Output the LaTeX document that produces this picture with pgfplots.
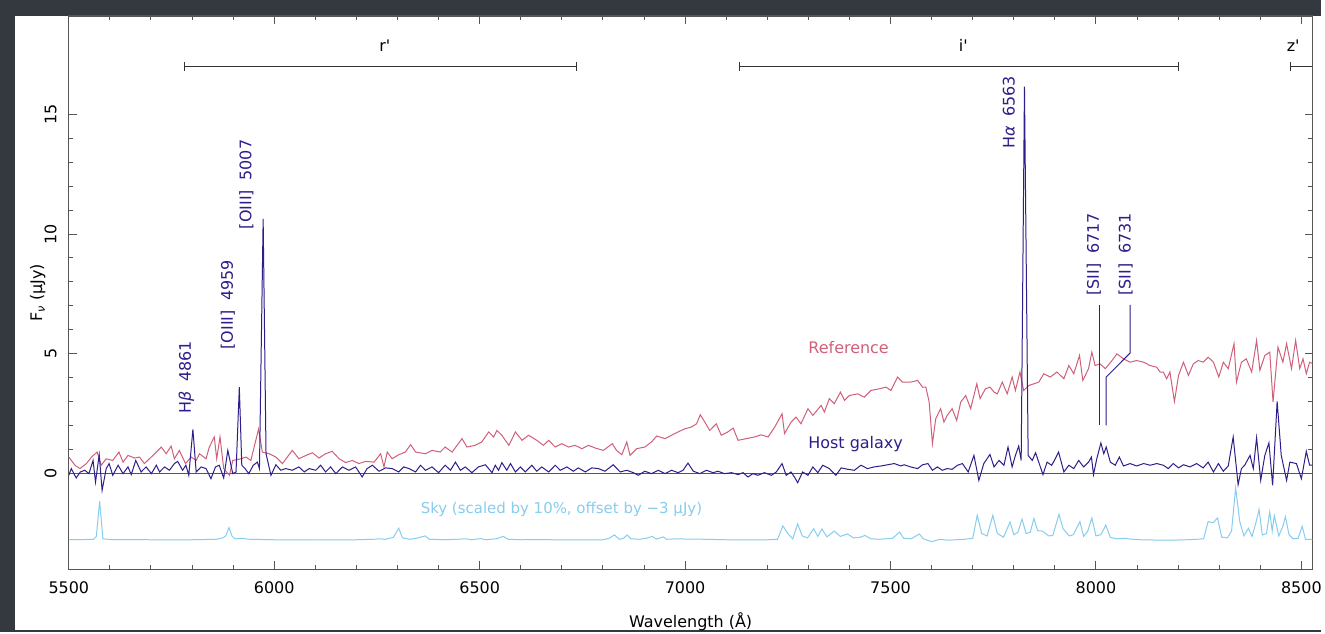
\documentclass[border=0pt]{standalone}
\usepackage{fontspec}
\setmainfont{DejaVu Sans}
\usepackage{pgfplots}
\pgfplotsset{compat=1.18}
\usepackage{pgfplotstable}
\definecolor{hostc}{RGB}{46,30,138}
\definecolor{refc}{RGB}{208,96,122}
\definecolor{skyc}{RGB}{135,205,238}
\definecolor{bgdark}{RGB}{52,56,63}
\definecolor{axc}{RGB}{85,85,85}

\pgfplotstableread{
lam flux
5500 -0.07
5506 0.21
5518 -0.18
5528 0.07
5539 0.14
5549 0.00
5559 0.55
5565 -0.35
5574 0.79
5581 -0.70
5591 0.21
5598 0.42
5607 -0.07
5620 0.35
5632 0.00
5644 0.28
5652 -0.04
5663 0.55
5676 0.07
5688 0.28
5701 0.00
5713 0.35
5721 0.07
5733 0.28
5745 0.14
5757 0.42
5765 0.51
5777 0.14
5785 0.35
5792 -0.07
5802 1.85
5810 0.07
5822 0.28
5834 0.21
5846 -0.21
5857 0.28
5866 0.35
5877 -0.18
5887 0.97
5899 0.00
5907 0.07
5915 3.61
5921 0.35
5929 0.21
5938 0.00
5949 0.35
5959 0.48
5964 0.21
5973 10.63
5980 0.83
5992 -0.07
6004 0.37
6016 0.14
6028 0.21
6044 0.14
6060 0.28
6073 0.07
6085 0.21
6101 0.14
6113 0.35
6125 0.07
6137 0.28
6150 0.00
6166 0.28
6182 0.14
6198 0.28
6214 -0.14
6226 0.21
6239 0.35
6255 0.10
6271 0.24
6287 0.21
6303 0.07
6315 0.28
6328 0.21
6344 0.07
6356 0.35
6368 0.14
6384 0.28
6400 0.04
6416 0.35
6429 0.14
6441 0.48
6453 0.14
6465 0.28
6481 0.04
6497 0.28
6514 0.37
6530 0.04
6538 0.35
6546 0.14
6554 0.46
6566 0.14
6575 0.42
6587 0.07
6599 0.28
6611 0.07
6627 0.35
6639 0.10
6651 0.28
6668 0.07
6684 0.35
6696 0.14
6712 0.28
6728 0.10
6740 0.24
6757 0.07
6773 0.24
6789 0.21
6805 0.10
6825 0.37
6842 0.07
6858 0.14
6874 0.04
6886 -0.07
6902 0.10
6918 0.00
6935 0.14
6951 0.00
6967 0.14
6983 0.04
6995 0.14
7007 0.44
7020 0.10
7036 0.00
7052 0.14
7068 0.04
7080 0.10
7096 0.00
7113 0.04
7129 -0.04
7141 0.04
7153 -0.14
7165 0.00
7177 -0.07
7193 0.04
7210 -0.07
7222 0.07
7236 0.42
7246 -0.07
7258 0.07
7266 -0.14
7274 -0.38
7286 0.07
7299 -0.07
7311 0.28
7323 0.04
7335 0.35
7351 0.21
7367 -0.07
7380 0.24
7396 0.18
7412 0.14
7428 0.35
7444 0.21
7460 0.28
7477 0.32
7493 0.37
7509 0.42
7525 0.32
7533 0.37
7549 0.28
7566 0.21
7578 0.37
7591 0.42
7602 0.14
7614 0.28
7626 0.14
7638 0.21
7650 0.18
7663 0.35
7675 0.42
7689 0.07
7703 0.76
7715 -0.28
7727 0.42
7742 0.80
7752 0.28
7764 0.55
7776 0.35
7786 1.11
7796 0.28
7804 0.76
7812 1.15
7818 0.55
7826 16.15
7835 0.76
7845 0.55
7853 0.87
7871 -0.04
7881 0.48
7892 0.35
7899 0.55
7909 0.90
7922 0.07
7934 0.35
7946 0.21
7958 0.55
7970 0.28
7982 0.48
7989 0.69
7994 -0.04
8002 0.62
8012 1.28
8019 0.83
8025 1.11
8035 0.48
8047 0.35
8057 0.69
8067 0.32
8083 0.42
8099 0.32
8116 0.42
8132 0.35
8148 0.42
8164 0.35
8176 0.21
8188 0.42
8201 0.24
8213 0.37
8229 0.28
8245 0.42
8261 0.24
8273 0.48
8286 0.07
8298 0.42
8310 0.10
8322 0.32
8334 1.53
8346 -0.46
8354 0.21
8362 0.35
8375 0.76
8383 0.21
8391 1.50
8401 -0.28
8411 0.76
8421 1.28
8430 -0.49
8441 3.01
8451 0.76
8464 -0.28
8472 0.48
8488 0.42
8500 -0.21
8512 0.93
8520 0.35
8527 0.35
}\hostdata

\pgfplotstableread{
lam flux
5500 0.69
5515 0.35
5527 0.21
5543 0.42
5555 0.69
5569 0.90
5579 0.35
5591 0.62
5607 0.55
5622 0.90
5632 0.48
5644 0.76
5660 0.65
5672 0.69
5684 0.42
5709 0.83
5725 1.11
5737 0.83
5749 1.15
5757 0.62
5769 0.97
5784 0.42
5798 0.69
5810 0.55
5818 0.83
5834 0.62
5842 1.11
5854 1.53
5860 0.62
5868 1.53
5877 0.21
5891 -0.07
5899 0.55
5919 0.62
5931 0.69
5943 0.55
5962 1.87
5971 0.90
5988 0.83
6004 0.69
6020 0.42
6044 0.97
6060 0.62
6077 0.76
6093 0.87
6109 0.65
6125 0.83
6141 0.93
6158 0.62
6174 0.46
6190 0.55
6206 0.42
6222 0.51
6243 0.48
6259 0.83
6267 0.28
6275 0.90
6287 0.62
6303 0.79
6319 0.90
6332 1.21
6344 0.90
6368 0.83
6384 0.97
6404 0.90
6416 1.11
6433 0.90
6457 1.46
6469 1.11
6489 1.18
6505 1.32
6522 1.74
6534 1.53
6542 1.80
6554 1.60
6571 1.18
6587 1.74
6603 1.39
6619 1.60
6639 1.39
6655 1.18
6668 1.39
6684 1.11
6700 1.25
6716 1.11
6732 1.18
6749 1.04
6765 1.18
6781 1.07
6801 0.97
6823 1.25
6833 0.97
6846 0.79
6858 1.32
6866 0.76
6882 1.04
6902 1.11
6918 1.32
6931 1.57
6951 1.46
6967 1.60
6983 1.74
6999 1.87
7015 1.94
7028 2.08
7037 2.46
7048 2.15
7060 1.80
7076 2.08
7088 1.60
7104 1.74
7117 1.90
7129 1.39
7149 1.46
7169 1.53
7185 1.62
7202 1.53
7218 1.94
7236 2.50
7242 1.67
7258 2.15
7270 2.36
7282 2.08
7299 2.71
7311 2.43
7331 2.85
7339 2.57
7351 3.13
7363 2.92
7378 3.40
7388 3.06
7400 3.26
7420 3.33
7436 3.19
7452 3.47
7473 3.54
7489 3.61
7501 3.47
7517 4.03
7529 3.82
7549 3.82
7566 3.89
7578 3.61
7586 3.61
7594 2.99
7602 1.25
7610 2.29
7622 2.71
7630 2.15
7638 2.43
7650 2.71
7661 2.22
7671 2.99
7683 3.26
7695 2.71
7710 3.75
7718 3.13
7731 3.54
7742 3.61
7752 3.40
7760 3.33
7772 3.82
7784 3.33
7796 4.03
7804 3.47
7815 4.24
7824 3.47
7837 3.68
7849 3.75
7861 3.82
7873 4.17
7889 4.03
7905 4.24
7922 3.96
7934 4.51
7946 4.17
7960 4.93
7968 3.89
7982 4.38
7990 5.07
7998 4.51
8010 4.58
8023 4.38
8039 4.72
8051 5.00
8067 4.79
8083 4.65
8099 4.72
8116 4.65
8132 4.51
8148 4.44
8156 4.24
8164 4.24
8172 3.96
8180 4.24
8191 3.01
8201 4.10
8213 4.65
8225 4.10
8237 4.58
8249 4.72
8261 4.65
8273 4.86
8286 4.65
8299 4.03
8310 4.65
8322 4.38
8336 5.42
8342 3.82
8354 4.65
8366 4.79
8379 4.24
8391 5.56
8399 4.31
8411 4.93
8423 5.07
8431 2.99
8443 5.28
8455 4.65
8464 5.42
8476 4.38
8486 5.56
8496 4.38
8504 4.79
8512 4.17
8520 4.65
8527 4.60
}\refdata

\pgfplotstableread{
lam flux
5500 -2.76
5540 -2.75
5560 -2.74
5567 -2.62
5575 -1.15
5583 -2.72
5600 -2.75
5700 -2.76
5800 -2.76
5860 -2.74
5875 -2.68
5882 -2.60
5890 -2.25
5897 -2.60
5904 -2.72
5920 -2.70
5940 -2.74
6000 -2.76
6100 -2.77
6200 -2.76
6240 -2.74
6255 -2.72
6270 -2.74
6290 -2.66
6303 -2.28
6312 -2.68
6330 -2.74
6345 -2.70
6367 -2.60
6378 -2.74
6420 -2.76
6468 -2.72
6480 -2.76
6502 -2.71
6515 -2.76
6540 -2.72
6557 -2.62
6570 -2.74
6600 -2.76
6650 -2.75
6700 -2.77
6750 -2.76
6800 -2.76
6815 -2.70
6828 -2.56
6840 -2.74
6850 -2.70
6859 -2.56
6868 -2.72
6890 -2.74
6905 -2.70
6920 -2.62
6930 -2.73
6947 -2.64
6955 -2.74
6980 -2.72
7000 -2.73
7050 -2.74
7100 -2.76
7150 -2.77
7200 -2.76
7225 -2.74
7238 -2.18
7250 -2.50
7262 -2.72
7274 -2.10
7285 -2.60
7298 -2.68
7313 -2.30
7323 -2.62
7333 -2.31
7345 -2.64
7363 -2.40
7378 -2.62
7395 -2.52
7410 -2.68
7425 -2.66
7438 -2.58
7452 -2.72
7470 -2.74
7490 -2.72
7505 -2.70
7522 -2.44
7532 -2.70
7550 -2.72
7570 -2.52
7580 -2.72
7600 -2.84
7620 -2.74
7640 -2.78
7660 -2.76
7680 -2.74
7700 -2.70
7711 -1.74
7722 -2.50
7735 -2.60
7749 -1.74
7760 -2.50
7775 -2.65
7791 -2.02
7800 -2.55
7810 -2.45
7820 -1.90
7830 -2.50
7840 -2.45
7849 -1.87
7858 -2.38
7870 -2.40
7885 -2.60
7895 -2.58
7910 -1.70
7920 -2.30
7935 -2.60
7945 -2.55
7961 -2.00
7970 -2.62
7980 -2.40
7990 -1.85
8000 -2.60
8012 -2.55
8024 -2.15
8035 -2.66
8050 -2.72
8070 -2.70
8090 -2.74
8110 -2.76
8140 -2.77
8180 -2.78
8220 -2.76
8245 -2.74
8262 -2.72
8273 -2.00
8285 -2.05
8296 -1.85
8306 -2.65
8320 -2.68
8330 -2.40
8340 -0.60
8350 -2.00
8360 -2.60
8371 -2.28
8380 -2.62
8390 -2.00
8397 -1.50
8405 -2.56
8415 -2.50
8423 -1.60
8429 -2.40
8434 -1.75
8445 -2.60
8455 -2.20
8461 -1.80
8470 -2.55
8480 -2.72
8492 -2.70
8502 -2.20
8510 -2.74
8527 -2.75
}\skydata

\begin{document}
\begin{tikzpicture}
\fill[bgdark] (0pt,0pt) rectangle (1325pt,634pt);
\fill[white] (15pt,2pt) rectangle (1325pt,618pt);
\begin{axis}[
  at={(69pt,63pt)}, anchor=south west,
  scale only axis, width=1247pt, height=555pt,
  xmin=5500, xmax=8527, ymin=-4, ymax=19.1,
  xtick={5500,6000,6500,7000,7500,8000,8500},
  minor x tick num=4,
  ytick={0,5,10,15}, minor y tick num=4,
  tick align=inside,
  major tick length=8pt, minor tick length=4.5pt,
  axis line style={axc, line width=1.2pt},
  every tick/.style={axc, line width=1pt},
  /pgf/number format/.cd, 1000 sep={}, assume math mode=true, /pgfplots/.cd,
  tick label style={font=\fontsize{16}{18}\selectfont, text=black},
  xticklabel style={yshift=-9pt},
  yticklabel style={rotate=90, anchor=south, inner sep=0pt},
  yticklabel shift=12pt,
  xlabel={Wavelength (Å)},
  ylabel={F\textsubscript{\textit{ν}}\ (μJy)},
  label style={font=\fontsize{16}{18}\selectfont},
  xlabel style={at={(axis description cs:0.5,-0.094)}, anchor=center},
  ylabel style={at={(axis description cs:-0.0249,0.5)}, anchor=center, rotate=0},
]
\addplot[axc, line width=0.9pt, forget plot] coordinates {(5500,0) (8527,0)};
\addplot[skyc, line width=1pt] table[x=lam, y=flux] {\skydata};
\addplot[refc, line width=1pt] table[x=lam, y=flux] {\refdata};
\addplot[hostc, line width=1pt] table[x=lam, y=flux] {\hostdata};

% filter bars
\draw[black!80, line width=1pt] (axis cs:5782,17.0) -- (axis cs:6735,17.0);
\draw[black!80, line width=1pt] (axis cs:5782,16.82) -- (axis cs:5782,17.18);
\draw[black!80, line width=1pt] (axis cs:6735,16.82) -- (axis cs:6735,17.18);
\draw[black!80, line width=1pt] (axis cs:7133,17.0) -- (axis cs:8201,17.0);
\draw[black!80, line width=1pt] (axis cs:7133,16.82) -- (axis cs:7133,17.18);
\draw[black!80, line width=1pt] (axis cs:8201,16.82) -- (axis cs:8201,17.18);
\draw[black!80, line width=1pt] (axis cs:8473,17.0) -- (axis cs:8527,17.0);
\draw[black!80, line width=1pt] (axis cs:8473,16.82) -- (axis cs:8473,17.18);
\node[font=\fontsize{16}{18}\selectfont] at (axis cs:6269,17.85) {r\textquotesingle};
\node[font=\fontsize{16}{18}\selectfont] at (axis cs:7677,17.85) {i\textquotesingle};
\node[font=\fontsize{16}{18}\selectfont] at (axis cs:8480,17.85) {z\textquotesingle};

% line labels
\begin{scope}[every node/.style={rotate=90, anchor=west, inner sep=0pt, text=hostc, font=\fontsize{16}{18}\selectfont}]
\node at (axis cs:5786,2.5) {H\textit{β}\hspace{0.6em}4861};
\node at (axis cs:5887,5.18) {[OIII]\hspace{0.6em}4959};
\node at (axis cs:5932,10.2) {[OIII]\hspace{0.6em}5007};
\node at (axis cs:7788,13.54) {H\textit{α}\hspace{0.6em}6563};
\node at (axis cs:7995,7.43) {[SII]\hspace{0.6em}6717};
\node at (axis cs:8072,7.43) {[SII]\hspace{0.6em}6731};
\end{scope}
\draw[hostc, line width=1pt] (axis cs:8008,7.04) -- (axis cs:8008,2.01);
\draw[hostc, line width=1pt] (axis cs:8083,7.04) -- (axis cs:8083,5.03) -- (axis cs:8025,4.03) -- (axis cs:8025,2.01);

% series labels
\node[text=refc, font=\fontsize{16}{18}\selectfont] at (axis cs:7398,5.25) {Reference};
\node[text=hostc, font=\fontsize{16}{18}\selectfont] at (axis cs:7415,1.25) {Host galaxy};
\node[text=skyc, font=\fontsize{15}{18}\selectfont] at (axis cs:6699,-1.5) {Sky (scaled by 10\%, offset by −3 μJy)};
\end{axis}
\end{tikzpicture}
\end{document}
